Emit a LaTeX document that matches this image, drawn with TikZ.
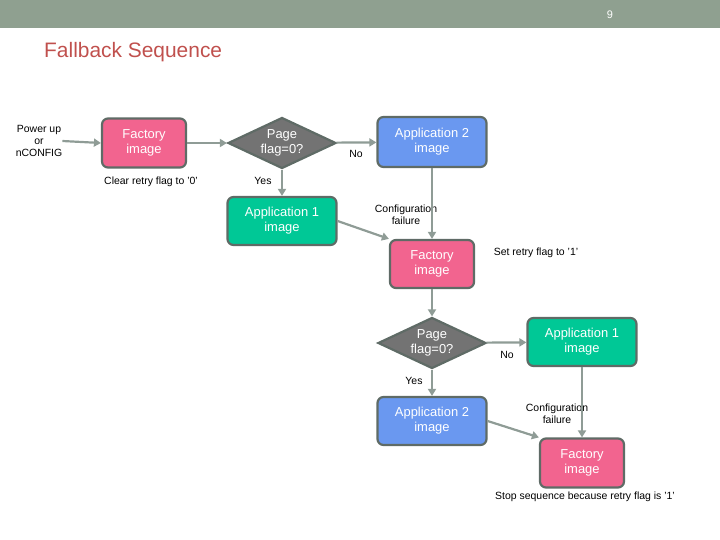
\documentclass[tikz,border=0pt]{standalone}
\usepackage{fontspec}
\setmainfont{Liberation Sans}
\usetikzlibrary{shapes.geometric,arrows.meta}
\definecolor{pinkc}{HTML}{F2648F}
\definecolor{bluec}{HTML}{6A98F0}
\definecolor{greenc}{HTML}{00C896}
\definecolor{diac}{HTML}{737373}
\definecolor{bordc}{HTML}{5F6B66}
\definecolor{arrc}{HTML}{8F9C96}
\definecolor{barc}{HTML}{8FA090}
\definecolor{titlec}{HTML}{C0504D}
\begin{document}
\begin{tikzpicture}[x=1bp,y=-1bp,
  box/.style={draw=bordc,line width=2.2bp,rounded corners=6bp,minimum width=84bp,minimum height=49bp,align=center,text=white,font=\fontsize{13}{15}\selectfont,inner sep=1bp},
  wbox/.style={box,minimum width=109bp},
  dia/.style={diamond,aspect=2.1,draw=bordc,line width=2.2bp,fill=diac,minimum width=108bp,minimum height=51bp,inner sep=0pt,align=center,text=white,font=\fontsize{13}{15}\selectfont},
  lbl/.style={align=center,font=\fontsize{10.5}{12}\selectfont,inner sep=0pt},
  arr/.style={draw=arrc,line width=2.2bp,-{Triangle[length=7bp,width=8bp]}}]
\useasboundingbox (0,0) rectangle (720,540);
\fill[barc] (0,0) rectangle (720,28);
\node[text=white,font=\fontsize{11}{13}\selectfont] (pg) at (610,15) {9};
\node[anchor=west,text=titlec,font=\fontsize{21}{25}\selectfont,inner sep=0pt] (title) at (44,52) {Fallback Sequence};
\node[lbl,align=center] (pw) at (39,141) {Power up\\or\\nCONFIG};
\node[box,fill=pinkc] (f1) at (144,143) {Factory\\image};
\node[dia] (d1) at (282,143) {Page\\flag=0?};
\node[wbox,fill=bluec,minimum height=50bp] (a2) at (432,142) {Application 2\\image};
\node[wbox,fill=greenc,minimum height=48bp] (a1) at (282,221) {Application 1\\image};
\node[box,fill=pinkc,minimum height=48bp] (f2) at (432,264) {Factory\\image};
\node[dia] (d2) at (432,343) {Page\\flag=0?};
\node[wbox,fill=greenc,minimum height=48bp] (a1b) at (582,342) {Application 1\\image};
\node[wbox,fill=bluec,minimum height=48bp] (a2b) at (432,421) {Application 2\\image};
\node[box,fill=pinkc] (f3) at (582,463) {Factory\\image};
\node[lbl] (l1) at (151,182) {Clear retry flag to '0'};
\node[lbl] (l2) at (263,181) {Yes};
\node[lbl] (l3) at (356,154) {No};
\node[lbl] (l4) at (406,215) {Configuration\\failure};
\node[lbl] (l5) at (536,253) {Set retry flag to '1'};
\node[lbl] (l6) at (507,355) {No};
\node[lbl] (l7) at (414,381) {Yes};
\node[lbl] (l8) at (557,414) {Configuration\\failure};
\node[lbl] (l9) at (585,497) {Stop sequence because retry flag is '1'};
\draw[arr] (pw.east) -- (f1.west);
\draw[arr] (f1) -- (d1);
\draw[arr] (d1) -- (a2);
\draw[arr] (d1) -- (a1);
\draw[arr] (a2) -- (f2);
\draw[arr] (a1.east) -- (f2.north west);
\draw[arr] (f2) -- (d2);
\draw[arr] (d2) -- (a1b);
\draw[arr] (d2) -- (a2b);
\draw[arr] (a1b) -- (f3);
\draw[arr] (a2b.east) -- (f3.north west);
\end{tikzpicture}
\end{document}
